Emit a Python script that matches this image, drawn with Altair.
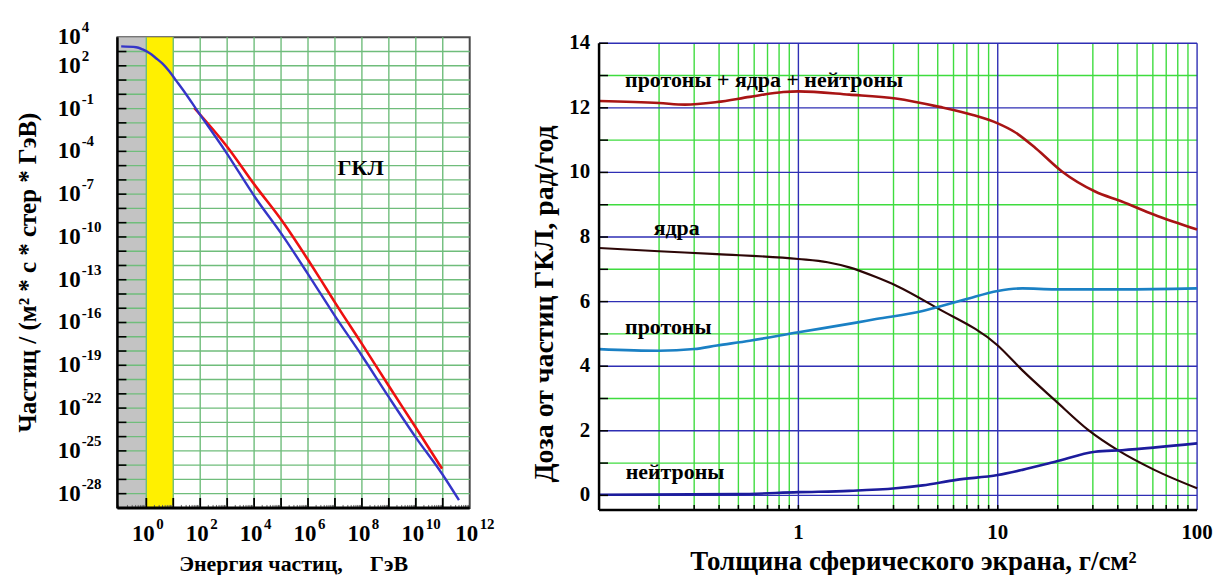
import altair as alt
import pandas as pd

FONT = "Liberation Serif"

# ---------------- Left panel: GCR spectrum ----------------
blue_energy = [0.117, 0.42, 0.73, 1.3, 2.3, 4.0, 7.1, 12.6, 29, 69, 890, 1.15e4,
               1.1e5, 1.0e6, 1.05e7, 1.0e8, 1.0e9, 9.8e9, 9.4e10, 4.0e11]
blue_flux = [2.3e3, 2.0e3, 1.4e3, 7.9e2, 3.4e2, 1.4e2, 41, 9.5, 1.1, 0.1, 9.3e-5, 5.2e-8,
             1.4e-10, 2.5e-13, 2.5e-16, 4.7e-19, 5.8e-22, 9.3e-25, 2.5e-27, 3.5e-29]
red_energy = [60, 890, 1.15e4, 1.1e5, 1.0e6, 3.2e6, 1.05e7, 1.0e8, 1.0e9, 9.8e9, 9.4e10]
red_flux = [0.11, 2.8e-4, 3.5e-7, 1.3e-9, 2.5e-12, 8e-14, 2.2e-15, 3.2e-18, 3.5e-21,
            4.5e-24, 5.6e-27]

band_start = [0.085, 1.0]
band_end = [1.0, 10.0]

left_x_exps = [0, 2, 4, 6, 8, 10, 12]
left_y_exps = [4, 2, -1, -4, -7, -10, -13, -16, -19, -22, -25, -28]

gkl_text = ["ГКЛ"]
gkl_energy = [9e7]
gkl_flux = [6.3e-6]

left_x_title = ["Энергия частиц,\u00a0\u00a0\u00a0\u00a0 ГэВ"]
left_y_title = ["Частиц / (м² * с * стер * ГэВ)"]

# ---------------- Right panel: dose vs shield thickness ----------------
total_thk = [0.1, 0.2, 0.27, 0.39, 0.57, 0.84, 1.0, 1.8, 3.08, 5.1, 7.5, 10, 12.1, 15.5,
             21, 30.8, 41.9, 61, 100]
total_dose = [12.21, 12.15, 12.10, 12.18, 12.34, 12.49, 12.51, 12.41, 12.29, 12.03, 11.78,
              11.52, 11.26, 10.75, 10.03, 9.41, 9.10, 8.69, 8.23]

nuclei_thk = [0.1, 0.2, 0.39, 1.0, 1.4, 1.8, 2.45, 3.08, 4.9, 10, 13.3, 19.4, 28.5, 40, 61, 100]
nuclei_dose = [7.66, 7.56, 7.47, 7.32, 7.22, 7.06, 6.76, 6.5, 5.82, 4.64, 3.87, 2.94, 2.02,
               1.40, 0.79, 0.22]

proton_thk = [0.1, 0.2, 0.3, 0.39, 0.57, 1.0, 1.95, 2.45, 4.2, 4.9, 6.9, 10, 13.3, 19.4, 42, 100]
proton_dose = [4.53, 4.48, 4.53, 4.64, 4.79, 5.05, 5.35, 5.46, 5.71, 5.82, 6.07, 6.33, 6.41,
               6.38, 6.38, 6.41]

neutron_thk = [0.1, 0.5, 1.0, 1.8, 3.08, 4.2, 6.2, 10, 13.3, 19.4, 30.8, 42, 100]
neutron_dose = [0.02, 0.04, 0.1, 0.14, 0.22, 0.31, 0.48, 0.63, 0.79, 1.04, 1.35, 1.40, 1.61]

curve_labels = ["протоны + ядра + нейтроны", "ядра", "протоны", "нейтроны"]
curve_label_thk = [0.135, 0.188, 0.135, 0.136]
curve_label_dose = [12.86, 8.27, 5.2, 0.73]

right_y_labels = [0, 2, 4, 6, 8, 10, 12, 14]
right_x_labels = [1, 10, 100]
right_x_title = ["Толщина сферического экрана, г/см²"]
right_y_title = ["Доза от частиц ГКЛ, рад/год"]


def txt(df, **kw):
    base = dict(font=FONT, fontWeight="bold", color="black")
    base.update(kw)
    return alt.Chart(df).mark_text(**base)


# ================= build left panel =================
W1, H1 = 354, 473
xs1 = alt.Scale(type="log", domain=[0.085, 1e12], nice=False)
ys1 = alt.Scale(type="log", domain=[1e-29, 1e4], nice=False)

GRID1 = "#6fbd7b"

h_dec = [10.0 ** k for k in range(-28, 4)]
v_dec = [10.0 ** k for k in range(0, 12)]
minor_x1 = [m * 10.0 ** k for k in range(-2, 12) for m in range(2, 10)]
minor_x1 = [v for v in minor_x1 if 0.085 <= v <= 1e12]

gray = alt.Chart(pd.DataFrame({"x0": band_start[:1], "x1": band_end[:1]})).mark_rect(
    color="#c3c3c3").encode(
    x=alt.X("x0:Q", scale=xs1, axis=None), x2="x1:Q", y=alt.value(0), y2=alt.value(H1))

hgrid1 = alt.Chart(pd.DataFrame({"v": h_dec})).mark_rule(color=GRID1, strokeWidth=1.4).encode(
    y=alt.Y("v:Q", scale=ys1, axis=None), x=alt.value(0), x2=alt.value(W1))

yellow = alt.Chart(pd.DataFrame({"x0": band_start[1:], "x1": band_end[1:]})).mark_rect(
    color="#fff000").encode(
    x=alt.X("x0:Q", scale=xs1, axis=None), x2="x1:Q", y=alt.value(0), y2=alt.value(H1))

vgrid1 = alt.Chart(pd.DataFrame({"v": v_dec})).mark_rule(color=GRID1, strokeWidth=1.4).encode(
    x=alt.X("v:Q", scale=xs1, axis=None), y=alt.value(0), y2=alt.value(H1))

red_line = alt.Chart(pd.DataFrame({"E": red_energy, "F": red_flux})).mark_line(
    color="#ee1010", strokeWidth=2.6, interpolate="monotone").encode(
    x=alt.X("E:Q", scale=xs1, axis=None), y=alt.Y("F:Q", scale=ys1, axis=None))

blue_line = alt.Chart(pd.DataFrame({"E": blue_energy, "F": blue_flux})).mark_line(
    color="#3535c8", strokeWidth=2.4, interpolate="monotone").encode(
    x=alt.X("E:Q", scale=xs1, axis=None), y=alt.Y("F:Q", scale=ys1, axis=None))

yticks1 = alt.Chart(pd.DataFrame({"v": h_dec})).mark_rule(color="black", strokeWidth=1.6).encode(
    y=alt.Y("v:Q", scale=ys1, axis=None), x=alt.value(0), x2=alt.value(9))

xticks1 = alt.Chart(pd.DataFrame({"v": v_dec})).mark_rule(color="black", strokeWidth=1.8).encode(
    x=alt.X("v:Q", scale=xs1, axis=None), y=alt.value(H1 - 10), y2=alt.value(H1))

xminor1 = alt.Chart(pd.DataFrame({"v": minor_x1})).mark_rule(color="#666", strokeWidth=1).encode(
    x=alt.X("v:Q", scale=xs1, axis=None), y=alt.value(H1 - 3), y2=alt.value(H1))

frame_left1 = alt.Chart(pd.DataFrame({"k": [0]})).mark_rule(color="black", strokeWidth=2.5).encode(
    x=alt.value(0), y=alt.value(0), y2=alt.value(H1))
frame_bottom1 = alt.Chart(pd.DataFrame({"k": [0]})).mark_rule(color="black", strokeWidth=3).encode(
    x=alt.value(0), x2=alt.value(W1), y=alt.value(H1))

ylab_df = pd.DataFrame({"v": [10.0 ** e for e in left_y_exps], "base": "10",
                        "exp": [str(e) for e in left_y_exps]})
ylab_base = txt(ylab_df, align="left", baseline="middle", fontSize=23).encode(
    y=alt.Y("v:Q", scale=ys1, axis=None), x=alt.value(-60), text="base:N")
ylab_exp = txt(ylab_df, align="left", baseline="middle", fontSize=15, dy=-10).encode(
    y=alt.Y("v:Q", scale=ys1, axis=None), x=alt.value(-36), text="exp:N")

xlab_df = pd.DataFrame({"v": [10.0 ** e for e in left_x_exps], "base": "10",
                        "exp": [str(e) for e in left_x_exps]})
xlab_base = txt(xlab_df, align="center", baseline="middle", fontSize=23, dx=-3).encode(
    x=alt.X("v:Q", scale=xs1, axis=None), y=alt.value(H1 + 26), text="base:N")
xlab_exp = txt(xlab_df, align="left", baseline="middle", fontSize=15, dx=10).encode(
    x=alt.X("v:Q", scale=xs1, axis=None), y=alt.value(H1 + 16), text="exp:N")

gkl = txt(pd.DataFrame({"E": gkl_energy, "F": gkl_flux, "t": gkl_text}),
          align="center", baseline="middle", fontSize=22).encode(
    x=alt.X("E:Q", scale=xs1, axis=None), y=alt.Y("F:Q", scale=ys1, axis=None), text="t:N")

xtitle1 = txt(pd.DataFrame({"s": left_x_title}), align="center", baseline="middle",
              fontSize=22).encode(x=alt.value(W1 / 2), y=alt.value(H1 + 56), text="s:N")
ytitle1 = txt(pd.DataFrame({"s": left_y_title}), align="center", baseline="middle",
              fontSize=25, angle=270).encode(x=alt.value(-90), y=alt.value(H1 / 2), text="s:N")

left = alt.layer(gray, hgrid1, yellow, vgrid1, red_line, blue_line, yticks1, xticks1, xminor1,
                 frame_left1, frame_bottom1, ylab_base, ylab_exp, xlab_base, xlab_exp, gkl,
                 xtitle1, ytitle1).properties(
    width=W1, height=H1, view=alt.ViewBackground(stroke="#4a4a4a", strokeWidth=2))

# ================= build right panel =================
W2, H2 = 601, 475
TOP2 = 6
xs2 = alt.Scale(type="log", domain=[0.1, 100], nice=False)
ys2 = alt.Scale(domain=[-0.45, 14], range=[H2, TOP2], nice=False, zero=False)

GREEN2 = "#3fdc3f"
BLUE2 = "#2e2eb4"

minor_x2 = [m * 10.0 ** k for k in (-1, 0, 1) for m in range(2, 10)]
major_x2 = [1, 10, 100]
odd_y2 = [1, 3, 5, 7, 9, 11, 13]
even_y2 = [0, 2, 4, 6, 8, 10, 12, 14]
all_y2 = list(range(0, 15))

vgrid_minor = alt.Chart(pd.DataFrame({"v": minor_x2})).mark_rule(
    color=GREEN2, strokeWidth=1.4).encode(
    x=alt.X("v:Q", scale=xs2, axis=None), y=alt.value(TOP2), y2=alt.value(H2))
hgrid_odd = alt.Chart(pd.DataFrame({"v": odd_y2})).mark_rule(
    color=GREEN2, strokeWidth=1.4).encode(
    y=alt.Y("v:Q", scale=ys2, axis=None), x=alt.value(0), x2=alt.value(W2))
vgrid_major = alt.Chart(pd.DataFrame({"v": major_x2})).mark_rule(
    color=BLUE2, strokeWidth=1.4).encode(
    x=alt.X("v:Q", scale=xs2, axis=None), y=alt.value(TOP2), y2=alt.value(H2))
hgrid_even = alt.Chart(pd.DataFrame({"v": even_y2})).mark_rule(
    color=BLUE2, strokeWidth=1.4).encode(
    y=alt.Y("v:Q", scale=ys2, axis=None), x=alt.value(0), x2=alt.value(W2))


def curve(thk, dose, color, width):
    return alt.Chart(pd.DataFrame({"t": thk, "d": dose})).mark_line(
        color=color, strokeWidth=width, interpolate="monotone").encode(
        x=alt.X("t:Q", scale=xs2, axis=None), y=alt.Y("d:Q", scale=ys2, axis=None))


c_total = curve(total_thk, total_dose, "#a81414", 2.6)
c_nuclei = curve(nuclei_thk, nuclei_dose, "#2c0606", 2.2)
c_proton = curve(proton_thk, proton_dose, "#1a80c4", 2.6)
c_neutron = curve(neutron_thk, neutron_dose, "#1c1c9c", 2.6)

yticks2 = alt.Chart(pd.DataFrame({"v": all_y2})).mark_rule(color="black", strokeWidth=1.5).encode(
    y=alt.Y("v:Q", scale=ys2, axis=None), x=alt.value(0), x2=alt.value(9))
xticks2 = alt.Chart(pd.DataFrame({"v": minor_x2 + major_x2[:2]})).mark_rule(
    color="black", strokeWidth=1.5).encode(
    x=alt.X("v:Q", scale=xs2, axis=None), y=alt.value(H2 - 5), y2=alt.value(H2))

frame_left2 = alt.Chart(pd.DataFrame({"k": [0]})).mark_rule(color="black", strokeWidth=2.5).encode(
    x=alt.value(0), y=alt.value(TOP2), y2=alt.value(H2))
frame_bottom2 = alt.Chart(pd.DataFrame({"k": [0]})).mark_rule(color="black", strokeWidth=2.5).encode(
    x=alt.value(0), x2=alt.value(W2), y=alt.value(H2))

labels2 = txt(pd.DataFrame({"t": curve_label_thk, "d": curve_label_dose, "s": curve_labels}),
              align="left", baseline="middle", fontSize=22).encode(
    x=alt.X("t:Q", scale=xs2, axis=None), y=alt.Y("d:Q", scale=ys2, axis=None), text="s:N")

ylab2 = txt(pd.DataFrame({"v": right_y_labels, "s": [str(v) for v in right_y_labels]}),
            align="right", baseline="middle", fontSize=21).encode(
    y=alt.Y("v:Q", scale=ys2, axis=None), x=alt.value(-9), text="s:N")
xlab2 = txt(pd.DataFrame({"v": right_x_labels, "s": [str(v) for v in right_x_labels]}),
            align="center", baseline="middle", fontSize=21).encode(
    x=alt.X("v:Q", scale=xs2, axis=None), y=alt.value(H2 + 23), text="s:N")

xtitle2 = txt(pd.DataFrame({"s": right_x_title}), align="center", baseline="middle",
              fontSize=27).encode(x=alt.value(316), y=alt.value(H2 + 52), text="s:N")
ytitle2 = txt(pd.DataFrame({"s": right_y_title}), align="center", baseline="middle",
              fontSize=28, angle=270).encode(x=alt.value(-54), y=alt.value(268), text="s:N")

right = alt.layer(vgrid_minor, hgrid_odd, vgrid_major, hgrid_even, c_total, c_nuclei, c_proton,
                  c_neutron, yticks2, xticks2, frame_left2, frame_bottom2, labels2, ylab2, xlab2,
                  xtitle2, ytitle2).properties(
    width=W2, height=H2, view=alt.ViewBackground(stroke="transparent"))

chart = alt.hconcat(left, right, spacing=130, bounds="flush").properties(
    padding={"left": 7, "top": 10, "right": 0, "bottom": 0}
).configure_view(stroke="transparent").configure(background="white")

chart.save("out.html", embed_options={"renderer": "svg", "actions": False})
